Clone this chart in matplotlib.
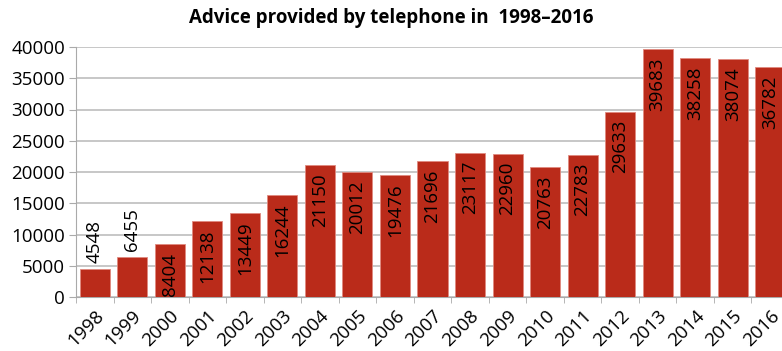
import matplotlib
matplotlib.use("Agg")
import matplotlib.pyplot as plt
import numpy as np

years = [str(y) for y in range(1998, 2017)]
values = [4548, 6455, 8404, 12138, 13449, 16244, 21150, 20012, 19476, 21696,
          23117, 22960, 20763, 22783, 29633, 39683, 38258, 38074, 36782]
yticks = [0, 5000, 10000, 15000, 20000, 25000, 30000, 35000, 40000]

plt.rcParams['font.family'] = ['Open Sans', 'DejaVu Sans']

fig = plt.figure(figsize=(7.82, 3.51), dpi=100)
ax = fig.add_axes([76/782, 1-297/351, (789-76)/782, 250/351])

fs = 13.5
x = np.arange(len(years))
ax.bar(x, values, width=0.8, color='#BA2B1A', edgecolor='#E08A80', linewidth=0.6, zorder=3)
ax.set_xlim(-0.5, len(years) - 0.5)
ax.set_ylim(0, 40000)
ax.set_yticks(yticks)
ax.set_yticklabels([str(v) for v in yticks], fontsize=fs)
ax.yaxis.grid(True, color='#BDBDBD', linewidth=1.2, zorder=0)
ax.set_axisbelow(True)

ax.set_xticks(x)
ax.set_xticklabels(years, rotation=45, ha='right', va='top', rotation_mode='anchor', fontsize=fs)
ax.set_xticks(np.arange(-0.5, len(years)), minor=True)
ax.tick_params(axis='x', which='major', length=0, pad=7)
ax.tick_params(axis='x', which='minor', length=4, color='#AAAAAA')
ax.tick_params(axis='y', length=5, color='#AAAAAA', pad=3)

for s in ['top', 'right']:
    ax.spines[s].set_visible(False)
ax.spines['left'].set_color('#AAAAAA')
ax.spines['bottom'].set_color('#AAAAAA')

for xi, v in zip(x, values):
    if v < 8000:
        ax.annotate(str(v), (xi, v), xytext=(0, 4), textcoords='offset points',
                    rotation=90, ha='center', va='bottom', fontsize=fs, color='black')
    else:
        ax.annotate(str(v), (xi, v), xytext=(0, -6), textcoords='offset points',
                    rotation=90, ha='center', va='top', fontsize=fs, color='black')

fig.text(0.5, 1-18/351, 'Advice provided by telephone in  1998\u20132016', ha='center', va='center',
         fontsize=13.5, fontweight='bold')

fig.savefig('out.png', dpi=100)
